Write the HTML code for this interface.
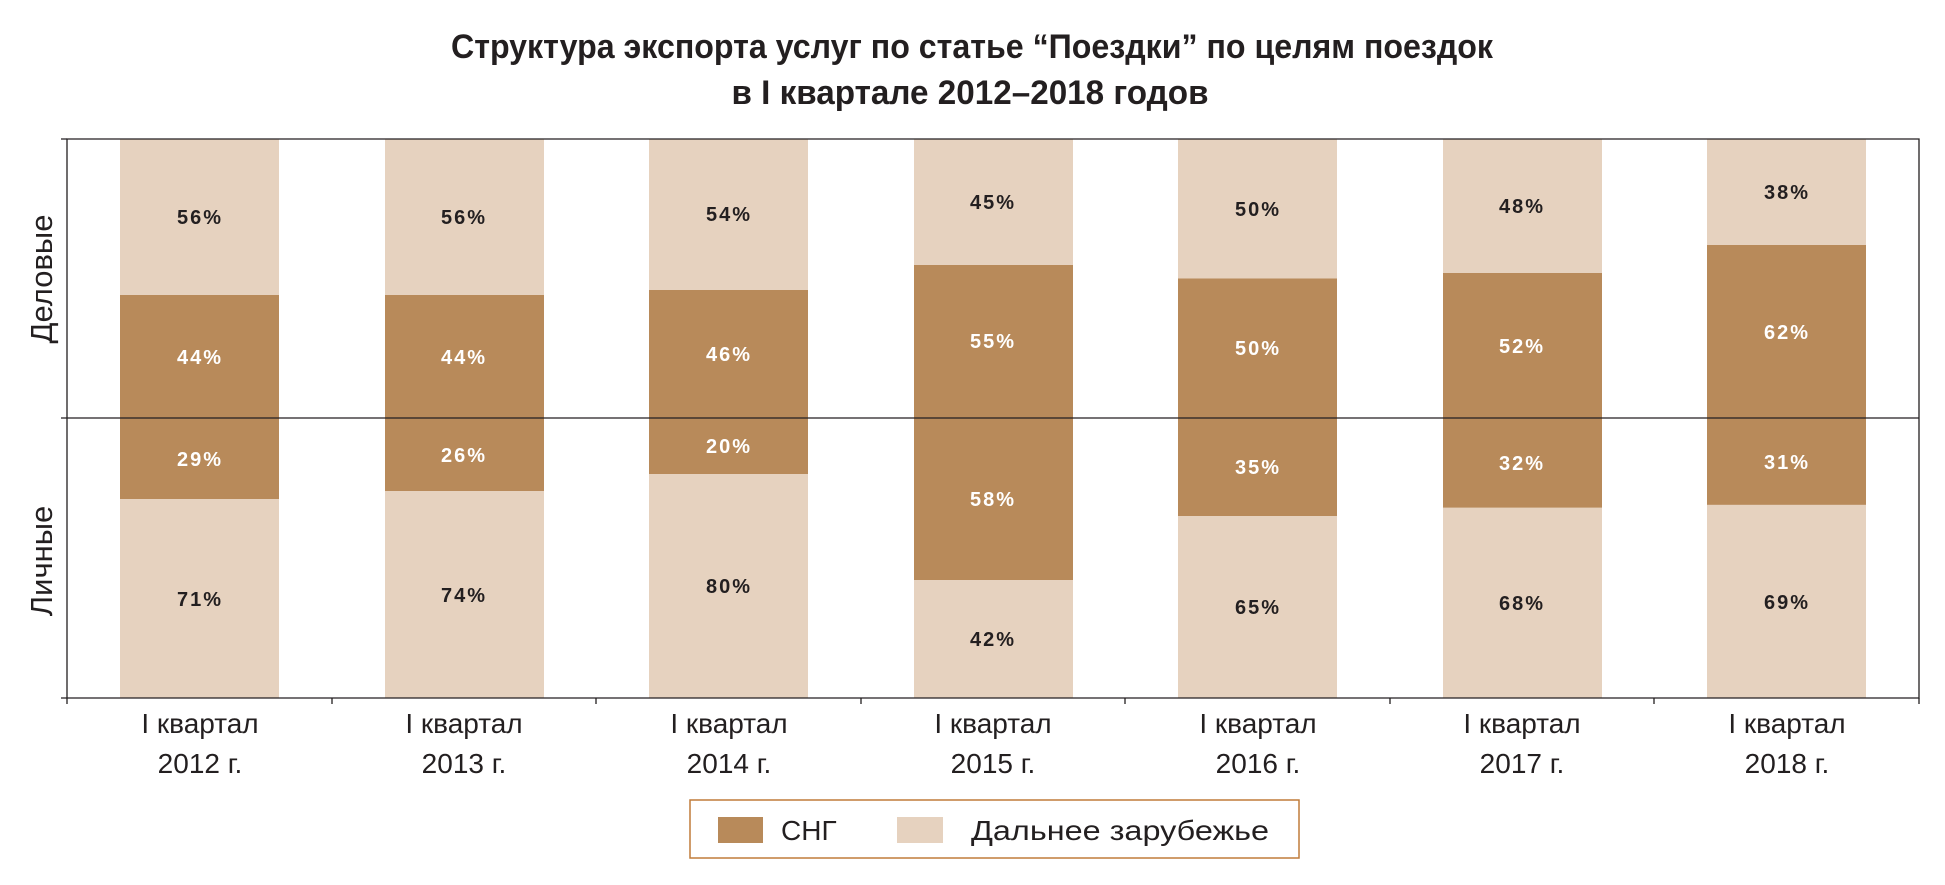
<!DOCTYPE html>
<html><head><meta charset="utf-8"><style>
html,body{margin:0;padding:0;background:#fff;}
svg{display:block;}
text{font-family:"Liberation Sans",sans-serif;}
.p{font-size:20px;font-weight:bold;letter-spacing:2px;text-anchor:middle;}
.d{fill:#fff;}
.l{fill:#231f20;}
.x{font-size:28px;fill:#231f20;text-anchor:middle;}
.y{font-size:31px;fill:#231f20;text-anchor:middle;}
</style></head><body>
<svg width="1945" height="885" viewBox="0 0 1945 885" xmlns="http://www.w3.org/2000/svg">
<text x="972" y="58" font-size="34" font-weight="bold" fill="#231f20" text-anchor="middle" textLength="1042" lengthAdjust="spacingAndGlyphs">Структура экспорта услуг по статье “Поездки” по целям поездок</text>
<text x="970" y="104" font-size="34" font-weight="bold" fill="#231f20" text-anchor="middle" textLength="477" lengthAdjust="spacingAndGlyphs">в I квартале 2012–2018 годов</text>

<g fill="#e6d2bf">
<rect x="120" y="139" width="159" height="559"/>
<rect x="385" y="139" width="159" height="559"/>
<rect x="649" y="139" width="159" height="559"/>
<rect x="914" y="139" width="159" height="559"/>
<rect x="1178" y="139" width="159" height="559"/>
<rect x="1443" y="139" width="159" height="559"/>
<rect x="1707" y="139" width="159" height="559"/>
</g>
<g fill="#b88a5a">
<rect x="120" y="295" width="159" height="204"/>
<rect x="385" y="295" width="159" height="196"/>
<rect x="649" y="290" width="159" height="184"/>
<rect x="914" y="265" width="159" height="315"/>
<rect x="1178" y="278.5" width="159" height="237.5"/>
<rect x="1443" y="273" width="159" height="234.6"/>
<rect x="1707" y="245" width="159" height="259.8"/>
</g>

<g stroke="#231f20" stroke-width="1.3" fill="none">
<path d="M67 139 H1919 V698 H67 Z"/>
<path d="M67 418 H1919"/>
<path d="M61 139 H67 M61 418 H67 M61 698 H67"/>
<path d="M67 698 V704 M332 698 V704 M596 698 V704 M861 698 V704 M1125 698 V704 M1390 698 V704 M1654 698 V704 M1919 698 V704"/>
</g>

<g class="p l">
<text x="200" y="224">56%</text>
<text x="464" y="224">56%</text>
<text x="729" y="221">54%</text>
<text x="993" y="209">45%</text>
<text x="1258" y="216">50%</text>
<text x="1522" y="213">48%</text>
<text x="1787" y="199">38%</text>
<text x="200" y="606">71%</text>
<text x="464" y="602">74%</text>
<text x="729" y="593">80%</text>
<text x="993" y="646">42%</text>
<text x="1258" y="614">65%</text>
<text x="1522" y="610">68%</text>
<text x="1787" y="609">69%</text>
</g>
<g class="p d">
<text x="200" y="364">44%</text>
<text x="464" y="364">44%</text>
<text x="729" y="361">46%</text>
<text x="993" y="348">55%</text>
<text x="1258" y="355">50%</text>
<text x="1522" y="353">52%</text>
<text x="1787" y="339">62%</text>
<text x="200" y="466">29%</text>
<text x="464" y="462">26%</text>
<text x="729" y="453">20%</text>
<text x="993" y="506">58%</text>
<text x="1258" y="474">35%</text>
<text x="1522" y="470">32%</text>
<text x="1787" y="469">31%</text>
</g>

<text class="y" transform="translate(52,279) rotate(-90)">Деловые</text>
<text class="y" transform="translate(52,561) rotate(-90)">Личные</text>

<g class="x">
<text x="200" y="733">I квартал</text><text x="200" y="773">2012 г.</text>
<text x="464" y="733">I квартал</text><text x="464" y="773">2013 г.</text>
<text x="729" y="733">I квартал</text><text x="729" y="773">2014 г.</text>
<text x="993" y="733">I квартал</text><text x="993" y="773">2015 г.</text>
<text x="1258" y="733">I квартал</text><text x="1258" y="773">2016 г.</text>
<text x="1522" y="733">I квартал</text><text x="1522" y="773">2017 г.</text>
<text x="1787" y="733">I квартал</text><text x="1787" y="773">2018 г.</text>
</g>

<rect x="690" y="800" width="609" height="58" fill="#fff" stroke="#c07c3a" stroke-width="1.5"/>
<rect x="718" y="817" width="45" height="26" fill="#b88a5a"/>
<text x="781" y="840" font-size="28" fill="#231f20">СНГ</text>
<rect x="897" y="817" width="46" height="26" fill="#e6d2bf"/>
<text x="971" y="840" font-size="28" fill="#231f20" textLength="298" lengthAdjust="spacingAndGlyphs">Дальнее зарубежье</text>
</svg>
</body></html>
